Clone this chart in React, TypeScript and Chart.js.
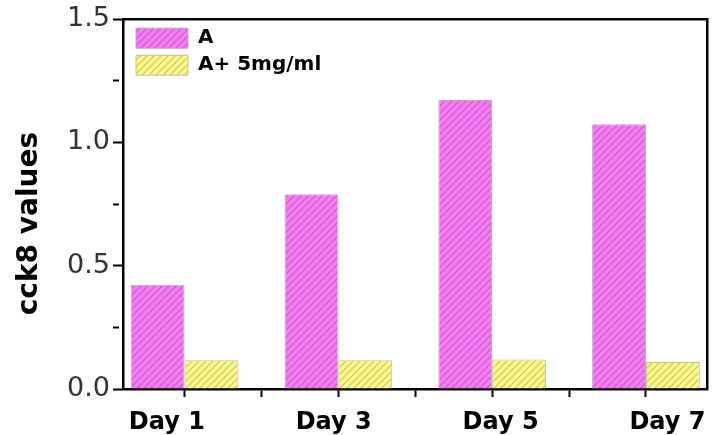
import React, { useEffect, useRef } from "react";
import { Chart, registerables } from "chart.js";

Chart.register(...registerables);

const dayLabels = ["Day 1", "Day 3", "Day 5", "Day 7"];
const seriesNames = ["A", "A+ 5mg/ml"];
const valuesA = [0.423, 0.79, 1.172, 1.074];
const valuesB = [0.117, 0.117, 0.12, 0.11];
const xTickValues = [0, 0.5, 1, 1.5, 2, 2.5, 3];
const xLabelValues = [0, 1, 2, 3];
const yTickValues = [0, 0.25, 0.5, 0.75, 1, 1.25, 1.5];
const yTitle = "cck8 values";

function makeHatch(bg: string, line: string): CanvasPattern | string {
  const s = 7;
  const c = document.createElement("canvas");
  c.width = s;
  c.height = s;
  const g = c.getContext("2d");
  if (!g) return bg;
  g.fillStyle = bg;
  g.fillRect(0, 0, s, s);
  g.strokeStyle = line;
  g.lineWidth = 1.2;
  g.beginPath();
  g.moveTo(-1, s + 1);
  g.lineTo(s + 1, -1);
  g.moveTo(-1, 1);
  g.lineTo(1, -1);
  g.moveTo(s - 1, s + 1);
  g.lineTo(s + 1, s - 1);
  g.stroke();
  const p = g.createPattern(c, "repeat");
  return p || bg;
}

const legendOffset = {
  id: "legendOffset",
  afterLayout(chart: any) {
    const lg = chart.legend;
    if (!lg) return;
    const w = lg.width;
    const h = lg.height;
    lg.left = chart.chartArea.left + 6;
    lg.top = chart.chartArea.top + 2;
    lg.right = lg.left + w;
    lg.bottom = lg.top + h;
  },
};

export default function App() {
  const ref = useRef<HTMLCanvasElement | null>(null);
  useEffect(() => {
    if (!ref.current) return;
    const hatchA = makeHatch("#f87cf6", "#c95cc6");
    const hatchB = makeHatch("#fbf98a", "#c9c466");
    const chart = new Chart(ref.current, {
      type: "bar",
      data: {
        datasets: [
          {
            label: seriesNames[0],
            data: valuesA.map((v, i) => ({ x: i, y: v })),
            backgroundColor: hatchA as any,
            borderColor: "#b9a9b9",
            borderWidth: 1,
          },
          {
            label: seriesNames[1],
            data: valuesB.map((v, i) => ({ x: i, y: v })),
            backgroundColor: hatchB as any,
            borderColor: "#c1c0a0",
            borderWidth: 1,
          },
        ],
      },
      plugins: [legendOffset],
      options: {
        responsive: false,
        animation: false,
        layout: { padding: { left: 0, right: 7, top: 17, bottom: 0 } },
        datasets: { bar: { categoryPercentage: 1.4, barPercentage: 1.0 } },
        plugins: {
          tooltip: { enabled: false },
          legend: {
            position: "chartArea" as any,
            align: "start",
            labels: {
              boxWidth: 52,
              boxHeight: 20,
              padding: 7,
              color: "#000",
              font: { family: "DejaVu Sans", size: 20, weight: "bold" },
            },
          },
        },
        scales: {
          x: {
            type: "linear",
            position: "bottom",
            weight: 0,
            min: -0.4,
            max: 3.4,
            offset: false,
            afterBuildTicks: (scale: any) => {
              scale.ticks = xTickValues.map((v) => ({ value: v }));
            },
            afterFit: (scale: any) => {
              scale.height = 10;
            },
            grid: {
              offset: false,
              drawOnChartArea: false,
              drawTicks: true,
              tickLength: 8,
              tickColor: "#000",
              tickWidth: 2,
            },
            border: { display: true, color: "#000", width: 2.5 },
            ticks: { display: false },
          },
          xl: {
            type: "linear",
            position: "bottom",
            weight: 1,
            min: -0.263,
            max: 3.24,
            offset: false,
            afterBuildTicks: (scale: any) => {
              scale.ticks = xLabelValues.map((v) => ({ value: v }));
            },
            afterFit: (scale: any) => {
              scale.height = 36;
            },
            grid: { display: false, drawTicks: false, offset: false },
            border: { display: false },
            ticks: {
              autoSkip: false,
              maxRotation: 0,
              padding: 9,
              color: "#000",
              font: { family: "DejaVu Sans", size: 24, weight: "bold" },
              callback: (v: any) => {
                const n = Math.round(Number(v));
                return dayLabels[n] ?? "";
              },
            },
          },
          x2: {
            type: "linear",
            position: "top",
            min: -0.4,
            max: 3.4,
            offset: false,
            afterFit: (scale: any) => {
              scale.height = 0;
            },
            grid: { display: false, drawTicks: false, offset: false },
            ticks: { display: false },
            border: { display: true, color: "#000", width: 2.5 },
          },
          y: {
            type: "linear",
            position: "left",
            min: 0,
            max: 1.5,
            afterBuildTicks: (scale: any) => {
              scale.ticks = yTickValues.map((v) => ({ value: v }));
            },
            afterFit: (scale: any) => {
              scale.width = 123;
            },
            grid: {
              drawOnChartArea: false,
              drawTicks: true,
              tickLength: 10,
              tickColor: "#000",
              tickWidth: 2,
              tickBorderDash: (ctx: any) => {
                const v = ctx.tick ? ctx.tick.value : 0;
                return Math.abs(v * 2 - Math.round(v * 2)) > 1e-6 ? [6, 100] : [];
              },
            } as any,
            border: { display: true, color: "#000", width: 2.5 },
            title: {
              display: true,
              text: yTitle + "    ",
              color: "#000",
              font: { family: "DejaVu Sans", size: 28, weight: "bold" },
              padding: { top: 13, bottom: 0 },
            },
            ticks: {
              autoSkip: false,
              padding: 3,
              color: "#333",
              font: { family: "DejaVu Sans", size: 27 },
              callback: (v: any) => {
                const n = Number(v);
                return Math.abs(n * 2 - Math.round(n * 2)) < 1e-6 ? n.toFixed(1) : "";
              },
            },
          },
          y2: {
            type: "linear",
            position: "right",
            min: 0,
            max: 1.5,
            afterFit: (scale: any) => {
              scale.width = 0;
            },
            grid: { display: false, drawTicks: false },
            ticks: { display: false },
            border: { display: true, color: "#000", width: 2.5 },
          },
        },
      } as any,
    });
    return () => chart.destroy();
  }, []);
  return (
    <div style={{ position: "fixed", left: 0, top: 0, width: 715, height: 435, background: "#fff" }}>
      <canvas ref={ref} width={715} height={435} style={{ display: "block" }} />
    </div>
  );
}
